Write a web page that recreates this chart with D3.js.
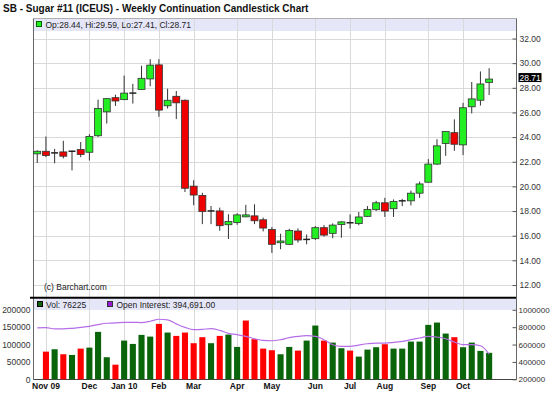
<!DOCTYPE html>
<html><head><meta charset="utf-8">
<script src="https://cdn.jsdelivr.net/npm/d3@7/dist/d3.min.js"></script>
<style>body{margin:0;background:#fff} svg{display:block;font-family:Arial,"Liberation Sans",sans-serif}</style>
</head><body><svg id="c" width="550" height="395"></svg>
<script>
// ---------- data ----------
const weeks = ["2009-10-26","2009-11-02","2009-11-09","2009-11-16","2009-11-23","2009-11-30","2009-12-07","2009-12-14","2009-12-21","2009-12-28",
"2010-01-04","2010-01-11","2010-01-18","2010-01-25","2010-02-01","2010-02-08","2010-02-15","2010-02-22","2010-03-01","2010-03-08",
"2010-03-15","2010-03-22","2010-03-29","2010-04-05","2010-04-12","2010-04-19","2010-04-26","2010-05-03","2010-05-10","2010-05-17",
"2010-05-24","2010-05-31","2010-06-07","2010-06-14","2010-06-21","2010-06-28","2010-07-05","2010-07-12","2010-07-19","2010-07-26",
"2010-08-02","2010-08-09","2010-08-16","2010-08-23","2010-08-30","2010-09-06","2010-09-13","2010-09-20","2010-09-27","2010-10-04",
"2010-10-11","2010-10-18","2010-10-25"];
const opens  = [22.64,22.85,22.72,22.80,22.85,22.99,22.77,24.11,26.05,27.20, 27.04,27.57,27.87,28.72,29.86,26.54,27.31,26.99,20.02,19.27,
                18.01,18.01,16.89,17.07,17.53,17.61,17.29,16.51,15.43,15.30, 16.38,15.70,15.76,16.65,16.19,16.90,17.05,16.98,17.57,18.11,
                18.67,18.19,18.83,18.83,19.45,20.34,21.81,23.48,24.36,23.37, 26.46,26.99,28.44];
const highs  = [22.93,24.05,23.04,23.70,22.90,23.60,24.24,27.04,27.15,27.44, 28.99,28.32,29.79,30.32,30.32,27.93,27.74,27.05,20.50,19.48,
                18.41,18.28,17.74,17.82,18.50,18.55,17.47,16.70,16.16,16.56, 16.59,16.10,16.78,16.86,17.00,17.18,17.73,17.92,18.40,18.83,
                19.07,18.94,18.99,19.66,20.39,22.21,23.83,24.45,25.44,26.78, 28.47,29.33,29.59];
const lows   = [21.90,22.37,21.87,22.27,21.30,22.37,22.10,24.00,25.10,26.53, 27.00,26.72,27.85,28.13,25.65,26.32,25.46,19.54,18.47,16.94,
                16.94,16.40,15.73,16.89,17.50,16.94,16.35,14.60,14.90,15.25, 15.44,15.30,15.65,15.92,15.79,15.84,16.58,16.85,17.52,18.00,
                17.52,17.52,18.40,18.46,19.07,20.34,21.75,22.48,22.89,22.54, 25.92,26.56,27.41];
const closes = [22.85,22.50,22.72,22.45,22.85,22.59,24.05,26.32,27.12,26.93, 27.57,27.57,28.77,29.84,26.19,26.99,26.78,19.85,19.30,17.96,
                18.01,16.81,17.15,17.69,17.69,17.21,16.62,15.30,15.57,16.43, 15.65,15.70,16.65,16.05,16.86,17.12,17.05,17.52,18.13,18.67,
                18.00,18.78,18.83,19.45,20.20,21.81,23.29,24.45,23.42,26.38, 27.10,28.31,28.71];
const volumes = [null,79600,86500,72100,70100,88300,91200,136500,63500,42100, 111400,101800,127800,122900,159500,134500,124900,134500,103900,121200,
                 103900,124900,128700,93200,169100,115400,88300,83700,72100,93200, 82600,111400,154700,111400,105600,89400,82600,65300,85500,92300,
                 100900,88300,88300,108500,108500,156600,163300,131600,121200,92300, 105600,81700,76225];
const volumeDirection = ["","d","u","d","u","d","u","u","u","d", "u","u","u","u","d","u","d","d","d","d",
                         "u","d","u","u","d","d","d","d","u","u", "d","u","u","d","u","u","d","u","u","u",
                         "d","u","u","u","u","u","u","u","d","u", "u","u","u"];
const openInterest = [791000,795000,780000,780000,787000,798000,810000,830000,845000,849000, 856000,856000,853000,868000,891000,884000,838000,798000,772000,775000,
                      783000,763000,729000,714000,694000,667000,648000,644000,656000,679000, 694000,702000,694000,656000,598000,578000,578000,594000,609000,617000,
                      617000,624000,636000,656000,675000,694000,687000,667000,629000,598000, 598000,586000,490000];
const priceTicks = [12,14,16,18,20,22,24,26,28,30,32];
const volumeTicks = [0,50000,100000,150000,200000];
const oiTicks = [200000,400000,600000,800000,1000000];
const monthWeeks  = ["2009-11-02","2009-12-07","2010-01-04","2010-02-01","2010-03-01","2010-04-05","2010-05-03","2010-06-07","2010-07-05","2010-08-02","2010-09-06","2010-10-04"];
const monthLabels = ["Nov 09","Dec","Jan 10","Feb","Mar","Apr","May","Jun","Jul","Aug","Sep","Oct"];
const titleText = "SB - Sugar #11 (ICEUS) - Weekly Continuation Candlestick Chart";
const lastVolumeLabel = "Vol: 76225";
const oiLabel = "Open Interest: 394,691.00";

// ---------- layout ----------
const svg = d3.select("#c");
const L = 33.5, R = 516.5, pTop = 18.5, pBot = 297, vTop = 298.5, vBot = 379.5;
const x = d3.scaleBand().domain(weeks).range([32.9, 32.9 + 8.69 * weeks.length]);
const cx = d => x(d) + x.bandwidth() / 2;
const y = d3.scaleLinear().domain([12, 32]).range([285, 38.5]);
const yv = d3.scaleLinear().domain([0, 200000]).range([379.3, 309.8]);
const yo = d3.scaleLinear().domain([200000, 1000000]).range([379.3, 309.8]);
const fmt2 = d3.format(".2f");

const candles = weeks.map((w, i) => ({w, o: opens[i], h: highs[i], l: lows[i], c: closes[i], v: volumes[i], vd: volumeDirection[i], oi: openInterest[i]}));

// bands
svg.append("rect").attr("x", L).attr("y", pTop).attr("width", R - L).attr("height", 12.5).attr("fill", "#e6e6f9");
svg.append("rect").attr("x", L).attr("y", vTop + 0.5).attr("width", R - L).attr("height", 11).attr("fill", "#e6e6f9");

// gridlines
const grid = svg.append("g").attr("stroke", "#d9d9d9").attr("stroke-width", 1);
grid.selectAll(".hg").data(priceTicks).join("line")
  .attr("x1", L).attr("x2", R).attr("y1", d => Math.round(y(d)) + 0.5).attr("y2", d => Math.round(y(d)) + 0.5);
grid.selectAll(".vg").data(monthWeeks).join("line")
  .attr("x1", d => Math.round(cx(d)) + 0.5).attr("x2", d => Math.round(cx(d)) + 0.5).attr("y1", pTop).attr("y2", pBot);
grid.selectAll(".vg2").data(monthWeeks).join("line")
  .attr("x1", d => Math.round(cx(d)) + 0.5).attr("x2", d => Math.round(cx(d)) + 0.5).attr("y1", vTop).attr("y2", vBot);

// frame
svg.append("line").attr("x1", L).attr("x2", R).attr("y1", pTop).attr("y2", pTop).attr("stroke", "#b0b0b0");
svg.append("line").attr("x1", L).attr("x2", L).attr("y1", pTop).attr("y2", vBot).attr("stroke", "#666");
svg.append("line").attr("x1", 30).attr("x2", R).attr("y1", 297.8).attr("y2", 297.8).attr("stroke", "#000").attr("stroke-width", 2);
svg.append("line").attr("x1", L).attr("x2", R).attr("y1", vBot).attr("y2", vBot).attr("stroke", "#444");
svg.append("line").attr("x1", R).attr("x2", R).attr("y1", pTop).attr("y2", vBot).attr("stroke", "#666");

// candles
const cg = svg.append("g");
const bw = x.bandwidth() * 0.8;
cg.selectAll(".wick").data(candles).join("line")
  .attr("x1", d => cx(d.w)).attr("x2", d => cx(d.w))
  .attr("y1", d => y(d.h)).attr("y2", d => y(d.l))
  .attr("stroke", "#333").attr("stroke-width", 1);
cg.selectAll(".body").data(candles.filter(d => d.o !== d.c)).join("rect")
  .attr("x", d => cx(d.w) - bw / 2).attr("width", bw)
  .attr("y", d => y(Math.max(d.o, d.c)))
  .attr("height", d => Math.max(1.5, Math.abs(y(d.o) - y(d.c))))
  .attr("fill", d => d.c > d.o ? "#22ee22" : "#ee0000")
  .attr("stroke", "#333").attr("stroke-width", 0.8);
cg.selectAll(".doji").data(candles.filter(d => d.o === d.c)).join("line")
  .attr("x1", d => cx(d.w) - bw / 2).attr("x2", d => cx(d.w) + bw / 2)
  .attr("y1", d => y(d.o)).attr("y2", d => y(d.o))
  .attr("stroke", "#222").attr("stroke-width", 1.5);

// volume bars
const vw = x.bandwidth() * 0.7;
svg.append("g").selectAll("rect").data(candles.filter(d => d.v != null)).join("rect")
  .attr("x", d => cx(d.w) - vw / 2).attr("width", vw)
  .attr("y", d => yv(d.v)).attr("height", d => yv(0) - yv(d.v))
  .attr("fill", d => d.vd === "u" ? "#0a640a" : "#ff0000");

// open interest line
svg.append("path").datum(candles)
  .attr("d", d3.line().x(d => cx(d.w)).y(d => yo(d.oi)).curve(d3.curveMonotoneX))
  .attr("fill", "none").attr("stroke", "#b56ee8").attr("stroke-width", 1.2);

// axes
const axisStyle = g => {
  g.select(".domain").remove();
  g.selectAll(".tick line").attr("stroke", "#555");
  g.selectAll(".tick text").attr("fill", "#333").style("font-family", "Arial, 'Liberation Sans', sans-serif");
};
svg.append("g").attr("transform", `translate(${R},0)`)
  .call(d3.axisRight(y).tickValues(priceTicks).tickFormat(fmt2).tickSizeInner(-4).tickSizeOuter(0).tickPadding(3))
  .call(axisStyle).style("font-size", "8.5px");
svg.append("g").attr("transform", `translate(${R},0)`)
  .call(d3.axisRight(yo).tickValues(oiTicks).tickFormat(d3.format("d")).tickSizeInner(-4).tickSizeOuter(0).tickPadding(2))
  .call(axisStyle).style("font-size", "8px");
svg.append("g").attr("transform", `translate(${L},0)`)
  .call(d3.axisLeft(yv).tickValues(volumeTicks).tickFormat(d3.format("d")).tickSize(0).tickPadding(3))
  .call(axisStyle).style("font-size", "8.5px");
const monthMap = new Map(monthWeeks.map((w, i) => [w, monthLabels[i]]));
svg.append("g").attr("transform", `translate(0,${vBot})`)
  .call(d3.axisBottom(x).tickValues(monthWeeks).tickFormat(d => monthMap.get(d)).tickSize(0).tickPadding(3))
  .call(axisStyle).style("font-size", "8.5px").style("font-weight", "bold")
  .selectAll(".tick text").attr("fill", "#111");

// last price marker
const last = candles[candles.length - 1];
svg.append("rect").attr("x", R + 2).attr("y", y(last.c) - 6).attr("width", 23).attr("height", 9).attr("fill", "#000");
svg.append("text").attr("x", R + 3).attr("y", y(last.c) + 1.5).attr("fill", "#fff").style("font-size", "8.5px").text(fmt2(last.c));

// titles and legends
svg.append("text").attr("x", 3).attr("y", 11.5).style("font-size", "10px").style("font-weight", "bold").attr("fill", "#111").text(titleText);
svg.append("rect").attr("x", 36.5).attr("y", 21.5).attr("width", 5).attr("height", 5).attr("fill", "#22ee22").attr("stroke", "#060");
svg.append("text").attr("x", 45.5).attr("y", 27.5).style("font-size", "8.5px").attr("fill", "#222")
  .text(`Op:${fmt2(last.o)}, Hi:${fmt2(last.h)}, Lo:${fmt2(last.l)}, Cl:${fmt2(last.c)}`);
svg.append("text").attr("x", 44).attr("y", 290).style("font-size", "8.5px").attr("fill", "#222").text("(c) Barchart.com");
svg.append("rect").attr("x", 37.5).attr("y", 301.5).attr("width", 5).attr("height", 5).attr("fill", "#0a640a").attr("stroke", "#000");
svg.append("text").attr("x", 46).attr("y", 307.5).style("font-size", "8.5px").attr("fill", "#222").text(lastVolumeLabel);
svg.append("rect").attr("x", 107.5).attr("y", 301.5).attr("width", 5).attr("height", 5).attr("fill", "#9a1ad8").attr("stroke", "#333");
svg.append("text").attr("x", 116.5).attr("y", 307.5).style("font-size", "8.5px").attr("fill", "#222").text(oiLabel);
</script></body></html>
